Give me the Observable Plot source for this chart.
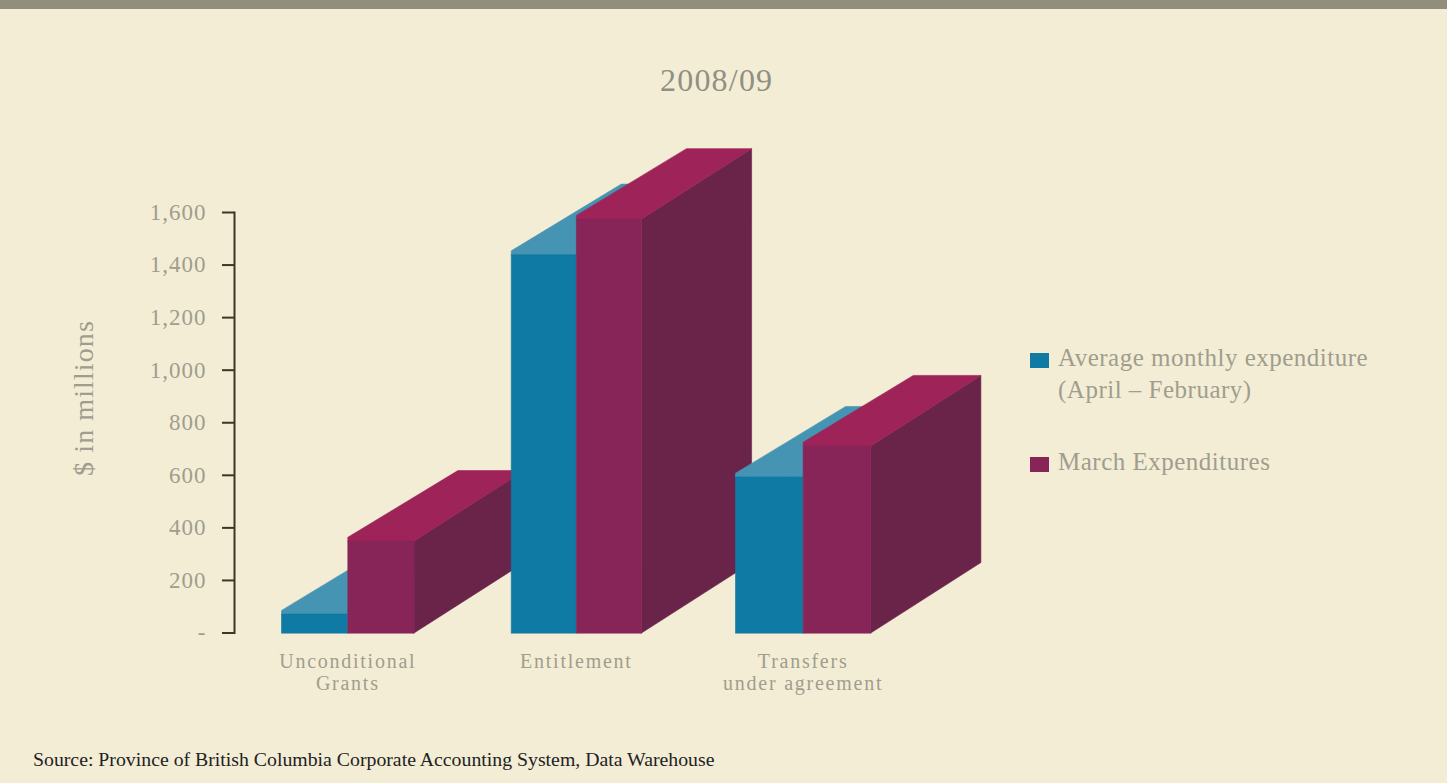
<!DOCTYPE html>
<html>
<head>
<meta charset="utf-8">
<script src="https://cdn.jsdelivr.net/npm/d3@7"></script>
<script src="https://cdn.jsdelivr.net/npm/@observablehq/plot@0.6"></script>
<style>
  html, body { margin: 0; padding: 0; background: #fff; }
  #page { position: relative; width: 1447px; height: 783px; overflow: hidden; background: #f3edd6; font-family: "Liberation Serif", serif; }
  #band { position: absolute; left: 0; top: 0; width: 100%; height: 9px; background: #918e7b; }
  #chart { position: absolute; left: 0; top: 0; }
  .t { position: absolute; color: #a09d8d; white-space: nowrap; }
  .sw { position: absolute; width: 19px; height: 15px; }
  #title { left: 660px; top: 62px; font-size: 32px; letter-spacing: 1.2px; color: #918f82; }
  #ylab { left: 84px; top: 398px; font-size: 28px; transform: translate(-50%,-50%) rotate(-90deg); letter-spacing: 1.1px; }
  #source { left: 33px; top: 748px; font-size: 19.8px; color: #222; }
  .lg { font-size: 25px; line-height: 32px; letter-spacing: .5px; }
  .cat, .cat text, .cat tspan { letter-spacing: 1.75px; }
</style>
</head>
<body>
<div id="page">
  <div id="band"></div>
  <div id="chart"></div>
  <div class="t" id="title">2008/09</div>
  <div class="t" id="ylab">$ in millions</div>
  <div class="sw" style="left:1030px;top:353px;background:#0f7aa4"></div>
  <div class="t lg" style="left:1058px;top:342px">Average monthly expenditure<br>(April – February)</div>
  <div class="sw" style="left:1030px;top:457px;background:#882558"></div>
  <div class="t lg" style="left:1058px;top:446px">March Expenditures</div>
  <div class="t" id="source">Source: Province of British Columbia Corporate Accounting System, Data Warehouse</div>
</div>
<script>
// Expenditure by category, $ millions
const categories = ["Unconditional\nGrants", "Entitlement", "Transfers\nunder agreement"];
const averageMonthly = [72, 1440, 594];
const marchExpenditures = [350, 1575, 712];
const yTicks = [0, 200, 400, 600, 800, 1000, 1200, 1400, 1600];

// Oblique projection of the bars, in scale units
const groupStart = [0, 1.012, 2];
const barWidths = [0.292, 0.287, 0.298];
const depthX = 0.485;
const depthY = 268;
const bevelY = 14;

const seriesList = [
  {values: averageMonthly, front: "#0f7aa4", top: "#4694b3"},
  {values: marchExpenditures, front: "#882558", top: "#9e2359", side: "#6a2349"}
];

// Each bar gives its polygons back to front, groups running left to right
const faces = [];
categories.forEach((c, g) => {
  seriesList.forEach((s, i) => {
    const w = barWidths[g], x0 = groupStart[g] + i * w, x1 = x0 + w, v = s.values[g];
    const push = (fill, pts) => pts.forEach(([x, y]) => faces.push({id: `${g}-${i}-${fill}`, fill, x, y}));
    if (s.side) push(s.side, [[x1, 0], [x1 + depthX, depthY], [x1 + depthX, v + depthY], [x1, v]]);
    push(s.top, [[x0, v], [x0, v + bevelY], [x0 + depthX, v + depthY], [x1 + depthX, v + depthY], [x1, v]]);
    push(s.front, [[x0, 0], [x0, v], [x1, v], [x1, 0]]);
  });
});

const chart = Plot.plot({
  width: 1447,
  height: 783,
  marginLeft: 234,
  marginRight: 0,
  marginTop: 212,
  marginBottom: 150.5,
  style: {background: "transparent", overflow: "visible", letterSpacing: "1px"},
  x: {type: "linear", domain: [0, 2], range: [281, 735], axis: null},
  y: {domain: [0, 1600], axis: null},
  marks: [
    Plot.line(faces, {x: "x", y: "y", z: "id", fill: "fill", stroke: "fill", strokeWidth: 0.6, curve: "linear-closed"}),
    Plot.frame({anchor: "left", stroke: "#3b3626", strokeWidth: 2, strokeOpacity: 1}),
    Plot.axisY({
      ticks: yTicks,
      tickSize: 12,
      tickPadding: 16,
      stroke: "#3b3626",
      strokeWidth: 2,
      label: null,
      fontSize: 23,
      fontFamily: "Liberation Serif",
      color: "#a09d8d",
      tickFormat: d => d === 0 ? "-" : d3.format(",")(d)
    }),
    Plot.text(categories, {
      x: (d, i) => groupStart[i] + barWidths[i],
      y: 0,
      text: d => d,
      dy: 19,
      lineAnchor: "top",
      fontSize: 20,
      lineHeight: 1.1,
      fill: "#a09d8d",
      fontFamily: "Liberation Serif",
      className: "cat"
    })
  ]
});
document.getElementById("chart").append(chart);
</script>
</body>
</html>
